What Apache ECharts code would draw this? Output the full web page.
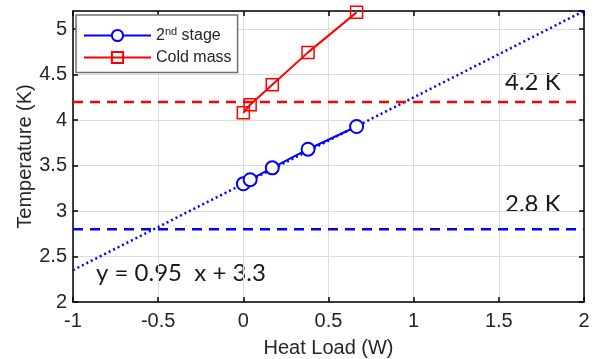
<!DOCTYPE html>
<html>
<head>
<meta charset="utf-8">
<script src="https://cdn.jsdelivr.net/npm/echarts@6/dist/echarts.min.js"></script>
<style>
  html, body {margin: 0; padding: 0; background: #fff;}
  #chart {width: 600px; height: 359px;}
</style>
</head>
<body>
<div id="chart"></div>
<script>
// measured points
const heatLoad = [0, 0.04, 0.17, 0.38, 0.665]
const stage2Temp = [3.30, 3.345, 3.475, 3.68, 3.93]
const coldMassTemp = [4.08, 4.17, 4.39, 4.745, 5.185]
// linear fit y = 0.95 x + 3.3, drawn across the axis
const fitLoad = [-1, 2]
const fitTemp = [2.35, 5.2]
// reference temperatures
const refLoad = [-1, 2]
const ref42 = [4.2, 4.2]
const ref28 = [2.8, 2.8]

const pairs = (xs, ys) => xs.map((x, i) => [x, ys[i]])

const chart = echarts.init(document.getElementById('chart'))
const txt = '#262626'
const font = 'Liberation Sans, Arial, sans-serif'
const note = 'Lato, Open Sans, sans-serif'

const boxAxis = (extra) => Object.assign({
  type: 'value',
  axisLine: {show: true, onZero: false, lineStyle: {color: '#000', width: 1.5}},
  axisTick: {show: true, inside: true, length: 5, lineStyle: {color: '#000', width: 1.5}},
  axisLabel: {show: false},
  splitLine: {show: false}
}, extra)

const option = {
  animation: false,
  grid: {left: 73, right: 16, top: 11, bottom: 57, containLabel: false, outerBoundsMode: 'none'},
  xAxis: [
    boxAxis({
      min: -1, max: 2, interval: 0.5, position: 'bottom',
      name: 'Heat Load (W)', nameLocation: 'middle', nameGap: 36, nameMoveOverlap: false,
      nameTextStyle: {color: txt, fontSize: 20, fontFamily: font},
      axisLabel: {show: true, color: txt, fontSize: 20, fontFamily: font, margin: 9},
      splitLine: {show: true, lineStyle: {color: '#dcdcdc', width: 1}}
    }),
    boxAxis({min: -1, max: 2, interval: 0.5, position: 'top'})
  ],
  yAxis: [
    boxAxis({
      min: 2, max: 5.2, interval: 0.5, position: 'left',
      name: 'Temperature (K)', nameLocation: 'middle', nameGap: 38, nameRotate: 90, nameMoveOverlap: false,
      nameTextStyle: {color: txt, fontSize: 20, fontFamily: font},
      axisLabel: {show: true, color: txt, fontSize: 20, fontFamily: font, margin: 6, showMaxLabel: false},
      splitLine: {show: true, lineStyle: {color: '#dcdcdc', width: 1}}
    }),
    boxAxis({min: 2, max: 5.2, interval: 0.5, position: 'right'})
  ],
  legend: {
    data: ['2nd stage', 'Cold mass'],
    orient: 'vertical',
    left: 76, top: 15,
    padding: [11, 6, 7, 7],
    itemGap: 6,
    itemWidth: 67, itemHeight: 14,
    backgroundColor: '#fff',
    borderColor: '#707070', borderWidth: 1.5,
    formatter: (name) => name === '2nd stage' ? '2{sup|nd} stage' : name,
    textStyle: {
      color: txt, fontSize: 16, fontFamily: font,
      rich: {sup: {fontSize: 11, fontFamily: font, color: txt, padding: [0, 0, 8, 0]}}
    }
  },
  series: [
    {
      name: 'fit', type: 'line', data: pairs(fitLoad, fitTemp),
      symbol: 'none', silent: true, z: 1,
      lineStyle: {color: '#0000ff', width: 2.5, type: [2, 3]}
    },
    {
      name: '4.2 K', type: 'line', data: pairs(refLoad, ref42),
      symbol: 'none', silent: true, z: 1,
      lineStyle: {color: '#ff0000', width: 2.5, type: [10, 7]}
    },
    {
      name: '2.8 K', type: 'line', data: pairs(refLoad, ref28),
      symbol: 'none', silent: true, z: 1,
      lineStyle: {color: '#0000ff', width: 2.5, type: [10, 7]}
    },
    {
      name: '2nd stage', type: 'line', data: pairs(heatLoad, stage2Temp),
      symbol: 'emptyCircle', symbolSize: 13, z: 3,
      color: '#0000ff',
      lineStyle: {color: '#0000ff', width: 2},
      itemStyle: {color: '#0000ff', borderColor: '#0000ff', borderWidth: 2}
    },
    {
      name: 'Cold mass', type: 'line', data: pairs(heatLoad, coldMassTemp),
      symbol: 'rect', symbolSize: 12, z: 3,
      color: '#ff0000',
      lineStyle: {color: '#ff0000', width: 2},
      itemStyle: {color: 'rgba(255,255,255,0)', borderColor: '#ff0000', borderWidth: 1.5}
    }
  ],
  graphic: [
    {type: 'text', left: 96, top: 261, style: {text: 'y = 0.95  x + 3.3', fill: '#1a1a1a', fontSize: 24, fontFamily: note}},
    {type: 'text', left: 505, top: 70, style: {text: '4.2 K', fill: '#1a1a1a', fontSize: 24, fontFamily: note}},
    {type: 'text', left: 505, top: 192, style: {text: '2.8 K', fill: '#1a1a1a', fontSize: 24, fontFamily: note}}
  ]
}

chart.setOption(option)
</script>
</body>
</html>
